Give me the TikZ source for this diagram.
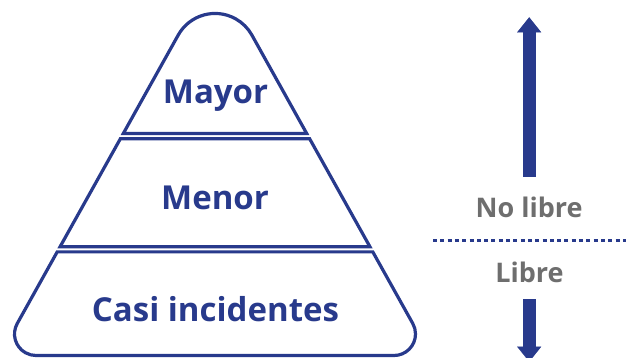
\documentclass[tikz,border=0pt]{standalone}
\usepackage{fontspec}
\setmainfont{Open Sans}
\usetikzlibrary{arrows.meta}
\definecolor{pblue}{HTML}{283A8C}
\definecolor{pgray}{HTML}{6E6E6E}
\tikzset{
  layer/.style={draw=pblue, line width=3.2pt, line join=miter, fill=white},
  bluelabel/.style={anchor=base, text=pblue, font=\fontsize{33}{33}\selectfont\bfseries, inner sep=0pt},
  graylabel/.style={anchor=base, text=pgray, font=\fontsize{27}{27}\selectfont\bfseries, inner sep=0pt},
  bigarrow/.style={draw=pblue, line width=13pt, -{Triangle[width=24pt,length=15pt,line width=0.01pt]}},
  divider/.style={draw=pblue, line width=3pt, dash pattern=on 4pt off 3.3pt}
}
\begin{document}
\begin{tikzpicture}[x=1pt,y=1pt]
\useasboundingbox (0,0) rectangle (631,358);
% pyramid layers
\path[layer] (123.3,224.5) -- (178.2,322.9) arc[start angle=150.84, end angle=29.16, radius=42.2] -- (306.7,224.5) -- cycle;
\path[layer] (120.4,219.3) -- (309.6,219.3) -- (369.9,111.3) -- (60.1,111.3) -- cycle;
\path[layer] (57.2,106.1) -- (17.23,34.47) arc[start angle=150.84, end angle=270, radius=21.5] -- (394.0,2.5) arc[start angle=270, end angle=389.16, radius=21.5] -- (372.8,106.1) -- cycle;
% labels
\node[bluelabel] (mayor) at (215.5,254.7) {Mayor};
\node[bluelabel] (menor) at (215,148) {Menor};
\node[bluelabel] (casi) at (215.5,36.3) {Casi incidentes};
\node[graylabel] (nolibre) at (529.2,140.7) {No libre};
\node[graylabel] (libre) at (529.5,75.3) {Libre};
% arrows and divider
\coordinate (upstart) at (529.2,181);
\coordinate (upend) at (529.2,340.7);
\coordinate (downstart) at (529.2,58.7);
\coordinate (downend) at (529.2,-3.7);
\coordinate (divl) at (433,117.7);
\coordinate (divr) at (626,117.7);
\draw[bigarrow] (upstart) -- (upend);
\draw[bigarrow] (downstart) -- (downend);
\draw[divider] (divl) -- (divr);
\end{tikzpicture}
\end{document}
